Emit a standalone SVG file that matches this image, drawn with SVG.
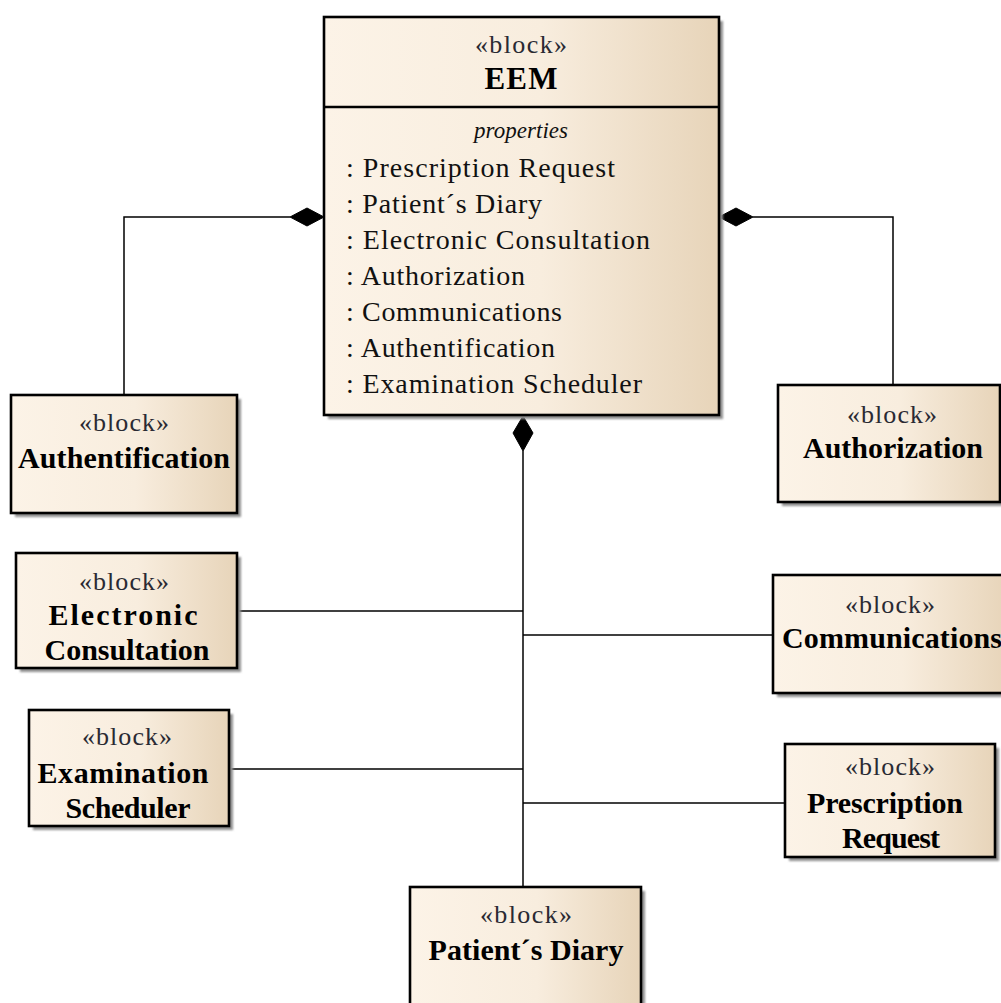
<svg xmlns="http://www.w3.org/2000/svg" width="1001" height="1003" viewBox="0 0 1001 1003">
  <style>
    .box { fill: url(#blockFill); stroke: #000; stroke-width: 2.6; }
    .shadow { fill: #8f8f8f; filter: url(#soft); }
    .sep { stroke: #000; stroke-width: 2.6; }
    .stereo { font-family: "Liberation Serif", "Times New Roman", serif; font-size: 26px; fill: #2a2a33; text-anchor: middle; }
    .name { font-family: "Liberation Serif", "Times New Roman", serif; font-size: 30px; font-weight: bold; fill: #000; text-anchor: middle; }
    .title { font-family: "Liberation Serif", "Times New Roman", serif; font-size: 31px; font-weight: bold; fill: #000; text-anchor: middle; }
    .section { font-family: "Liberation Serif", "Times New Roman", serif; font-size: 23px; font-style: italic; fill: #111; text-anchor: middle; }
    .prop { font-family: "Liberation Serif", "Times New Roman", serif; font-size: 28px; fill: #111; }
    .wire { fill: none; stroke: #000; stroke-width: 1.5; }
    .diamond { fill: #000; stroke: #000; stroke-width: 1; }
  </style>
  <defs>
    <linearGradient id="blockFill" x1="0" y1="0" x2="1" y2="0">
      <stop offset="0" stop-color="#FCF3E7"/>
      <stop offset="0.55" stop-color="#F8EDDE"/>
      <stop offset="1" stop-color="#E7D4B9"/>
    </linearGradient>
    <filter id="soft" x="-5%" y="-5%" width="110%" height="110%">
      <feGaussianBlur stdDeviation="1"/>
    </filter>
  </defs>

  <rect width="1001" height="1003" fill="#fff"/>

  <!-- composition connectors -->
  <g id="connectors">
    <polyline class="wire" points="124,395 124,217 290,217"/>
    <polygon class="diamond" points="324,217 307,208 290,217 307,226"/>
    <polyline class="wire" points="893,385 893,217 753,217"/>
    <polygon class="diamond" points="719,217 736,208 753,217 736,226"/>
    <line class="wire" x1="523" y1="451" x2="523" y2="887"/>
    <polygon class="diamond" points="523,416 533,433 523,451 513,433"/>
    <line class="wire" x1="237" y1="611" x2="523" y2="611"/>
    <line class="wire" x1="523" y1="635" x2="773" y2="635"/>
    <line class="wire" x1="229" y1="769" x2="523" y2="769"/>
    <line class="wire" x1="523" y1="803" x2="785" y2="803"/>
  </g>

  <!-- main block with its properties -->
  <g id="eem">
    <rect class="shadow" x="328" y="21" width="395" height="398"/>
    <rect class="box" x="324" y="17" width="395" height="398"/>
    <line class="sep" x1="324" y1="107" x2="719" y2="107"/>
    <text class="stereo" x="521" y="53" textLength="92">«block»</text>
    <text class="title" x="521" y="89" textLength="73">EEM</text>
    <text class="section" x="521" y="138" textLength="94">properties</text>
    <text class="prop" x="346" y="177" textLength="269">: Prescription Request</text>
    <text class="prop" x="346" y="213" textLength="196">: Patient´s Diary</text>
    <text class="prop" x="346" y="249" textLength="304">: Electronic Consultation</text>
    <text class="prop" x="346" y="285" textLength="179">: Authorization</text>
    <text class="prop" x="346" y="321" textLength="216">: Communications</text>
    <text class="prop" x="346" y="357" textLength="209">: Authentification</text>
    <text class="prop" x="346" y="393" textLength="296">: Examination Scheduler</text>
  </g>

  <g id="authentification">
    <rect class="shadow" x="15" y="399" width="226" height="118"/>
    <rect class="box" x="11" y="395" width="226" height="118"/>
    <text class="stereo" x="124" y="431" textLength="90">«block»</text>
    <text class="name" x="124" y="468" textLength="212">Authentification</text>
  </g>

  <g id="authorization">
    <rect class="shadow" x="782" y="389" width="222" height="117"/>
    <rect class="box" x="778" y="385" width="222" height="117"/>
    <text class="stereo" x="892" y="423" textLength="90">«block»</text>
    <text class="name" x="893" y="458" textLength="180">Authorization</text>
  </g>

  <g id="electronic-consultation">
    <rect class="shadow" x="20" y="557" width="221" height="115"/>
    <rect class="box" x="16" y="553" width="221" height="115"/>
    <text class="stereo" x="124" y="590" textLength="90">«block»</text>
    <text class="name" x="123" y="625" textLength="149">Electronic</text>
    <text class="name" x="127" y="660" textLength="165">Consultation</text>
  </g>

  <g id="communications">
    <rect class="shadow" x="777" y="579" width="235" height="118"/>
    <rect class="box" x="773" y="575" width="235" height="118"/>
    <text class="stereo" x="890" y="613" textLength="90">«block»</text>
    <text class="name" x="892" y="648" textLength="220">Communications</text>
  </g>

  <g id="examination-scheduler">
    <rect class="shadow" x="33" y="714" width="200" height="116"/>
    <rect class="box" x="29" y="710" width="200" height="116"/>
    <text class="stereo" x="127" y="745" textLength="90">«block»</text>
    <text class="name" x="123" y="783" textLength="171">Examination</text>
    <text class="name" x="128" y="818" textLength="125">Scheduler</text>
  </g>

  <g id="prescription-request">
    <rect class="shadow" x="789" y="748" width="210" height="113"/>
    <rect class="box" x="785" y="744" width="210" height="113"/>
    <text class="stereo" x="890" y="775" textLength="90">«block»</text>
    <text class="name" x="885" y="813" textLength="156">Prescription</text>
    <text class="name" x="891" y="848" textLength="98">Request</text>
  </g>

  <g id="patients-diary">
    <rect class="shadow" x="414" y="891" width="231" height="130"/>
    <rect class="box" x="410" y="887" width="231" height="130"/>
    <text class="stereo" x="526" y="923" textLength="92">«block»</text>
    <text class="name" x="526" y="960" textLength="195">Patient´s Diary</text>
  </g>
</svg>
